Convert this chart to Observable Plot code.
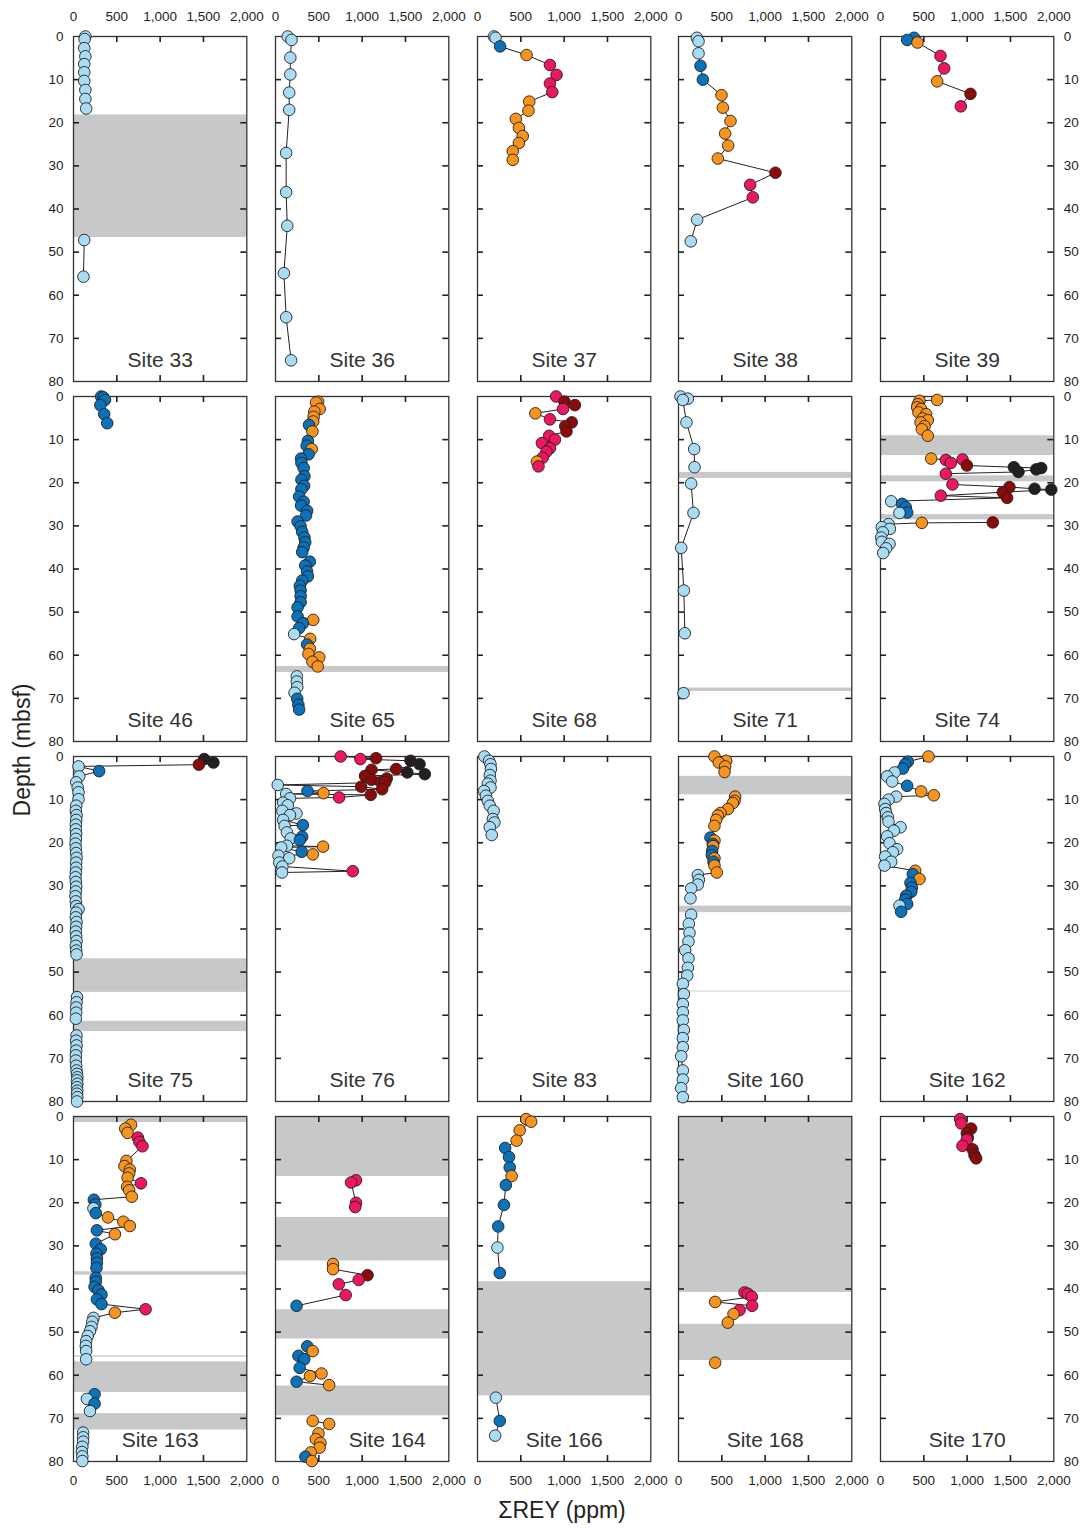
<!DOCTYPE html>
<html>
<head>
<meta charset="utf-8">
<script src="https://cdn.jsdelivr.net/npm/d3@7"></script>
<script src="https://cdn.jsdelivr.net/npm/@observablehq/plot@0.6"></script>
<style>
  body { margin: 0; background: #fff; }
  #chart { position: relative; width: 1084px; height: 1528px; font-family: "Liberation Sans", Arial, sans-serif; color: #231f20; }
  #chart svg { position: absolute; }
  .axis-title { position: absolute; font-size: 23px; white-space: nowrap; transform: translate(-50%, -50%); }
</style>
</head>
<body>
<div id="chart"></div>
<script>
// ---- categories and tick labels ----
const classes = ["lb", "db", "or", "pk", "dr", "bk"];
const classColors = ["#a8dcf4", "#0b72b9", "#f7941d", "#ec1760", "#8b0a0a", "#231f20"];
const xTicks = [0, 500, 1000, 1500, 2000];
const yTicks = [0, 10, 20, 30, 40, 50, 60, 70, 80];
const siteNames = ["33","36","37","38","39","46","65","68","71","74","75","76","83","160","162","163","164","166","168","170"];

// ---- data: [depth (mbsf), ΣREY (ppm), class] and gap intervals [top, bottom] ----
const s33 = [[0,137,"lb"],[0.6,128,"lb"],[2.7,124,"lb"],[4.6,137,"lb"],[6.4,124,"lb"],[8.3,124,"lb"],[10.3,124,"lb"],[12.4,137,"lb"],[14.5,137,"lb"],[16.7,146,"lb"],[47.2,124,"lb"],[55.7,115,"lb"]];
const g33 = [[18.2,46.6]];
const s36 = [[0,141,"lb"],[0.8,185,"lb"],[4.9,171,"lb"],[8.8,171,"lb"],[13.0,158,"lb"],[17.0,158,"lb"],[27.0,123,"lb"],[36.1,123,"lb"],[43.9,136,"lb"],[54.9,97,"lb"],[65.1,123,"lb"],[75.1,180,"lb"]];
const g36 = [];
const s37 = [[0,190,"lb"],[0.3,208,"lb"],[2.3,261,"db"],[4.3,566,"or"],[6.6,836,"pk"],[8.9,912,"pk"],[10.9,836,"pk"],[12.9,863,"pk"],[15.1,597,"or"],[17.2,588,"or"],[19.1,442,"or"],[21.2,478,"or"],[23.1,522,"or"],[24.7,478,"or"],[26.6,407,"or"],[28.6,407,"or"]];
const g37 = [];
const s38 = [[0.3,212,"lb"],[1.1,231,"lb"],[3.9,231,"lb"],[6.8,254,"db"],[10.0,281,"db"],[13.6,496,"or"],[16.5,512,"or"],[19.6,600,"or"],[22.5,538,"or"],[25.3,573,"or"],[28.3,454,"or"],[31.6,1119,"dr"],[34.4,827,"pk"],[37.3,858,"pk"],[42.5,215,"lb"],[47.5,142,"lb"]];
const g38 = [];
const s39 = [[0.3,388,"db"],[0.8,308,"db"],[1.4,427,"or"],[4.5,692,"pk"],[7.4,735,"pk"],[10.4,654,"or"],[13.3,1038,"dr"],[16.2,927,"pk"]];
const g39 = [];
const s46 = [[0,319,"db"],[0.2,345,"db"],[0.8,363,"db"],[2.0,310,"db"],[4.1,354,"db"],[6.2,389,"db"]];
const g46 = [];
const s65 = [[1.2,492,"or"],[1.4,468,"or"],[2.9,510,"or"],[3.5,448,"or"],[4.7,440,"or"],[5.8,435,"or"],[6.6,387,"db"],[8.1,426,"or"],[10.3,374,"db"],[11.4,360,"db"],[12.2,418,"or"],[13.4,382,"db"],[14.4,295,"db"],[15.4,299,"db"],[16.6,325,"db"],[18.5,334,"db"],[19.3,299,"db"],[20.7,330,"db"],[21.5,299,"db"],[23.2,273,"db"],[24.4,325,"db"],[25.3,295,"db"],[26.5,365,"db"],[27.6,352,"db"],[29.0,255,"db"],[30.1,290,"db"],[31.4,308,"db"],[32.7,334,"db"],[33.8,343,"db"],[35.0,325,"db"],[36.1,308,"db"],[38.3,396,"db"],[39.2,343,"db"],[40.6,365,"db"],[41.7,374,"db"],[42.7,308,"db"],[43.9,281,"db"],[45.0,290,"db"],[46.3,290,"db"],[47.7,290,"db"],[48.9,255,"db"],[51.0,255,"db"],[51.8,435,"or"],[52.6,316,"db"],[53.7,273,"db"],[55.1,215,"lb"],[56.2,400,"or"],[57.5,365,"db"],[58.5,396,"or"],[59.7,380,"or"],[60.5,505,"or"],[61.5,426,"or"],[62.6,488,"or"],[64.9,246,"lb"],[66.1,246,"lb"],[67.4,251,"lb"],[68.7,220,"lb"],[70.1,251,"db"],[71.5,264,"db"],[72.6,273,"db"]];
const g65 = [[62.6,64.0]];
const s68 = [[0,907,"pk"],[1.2,1004,"dr"],[2.0,1124,"dr"],[2.9,987,"pk"],[3.9,668,"or"],[5.3,836,"pk"],[6.0,1088,"dr"],[6.9,1013,"dr"],[8.1,1027,"dr"],[9.1,827,"pk"],[10.0,894,"pk"],[10.8,743,"pk"],[12.0,836,"pk"],[12.8,796,"pk"],[14.2,752,"pk"],[15.1,686,"or"],[16.2,704,"pk"]];
const g68 = [];
const s71 = [[0,23,"lb"],[0.5,108,"lb"],[0.8,50,"lb"],[6.0,92,"lb"],[12.2,181,"lb"],[16.4,185,"lb"],[20.2,146,"lb"],[27.0,173,"lb"],[35.1,31,"lb"],[45.0,62,"lb"],[54.9,73,"lb"],[68.8,58,"lb"]];
const g71 = [[17.6,19.0],[67.6,68.4]];
const s74 = [[0.8,654,"or"],[1.0,450,"or"],[1.8,431,"or"],[2.5,423,"or"],[2.9,469,"or"],[3.7,438,"or"],[4.1,527,"or"],[5.1,488,"or"],[5.5,546,"or"],[6.0,462,"or"],[6.9,508,"or"],[7.6,477,"or"],[9.1,546,"or"],
  [14.4,585,"or"],[14.7,754,"pk"],[15.4,812,"pk"],[14.6,947,"pk"],[16.0,997,"dr"],[16.4,1539,"bk"],[16.6,1855,"bk"],[16.9,1797,"bk"],[17.5,1592,"bk"],[17.9,754,"pk"],
  [20.4,831,"pk"],[21.0,1488,"dr"],[21.4,1778,"bk"],[21.6,1971,"bk"],[22.2,1411,"dr"],[23.0,696,"pk"],[23.5,1461,"dr"],[24.3,123,"lb"],[24.9,250,"db"],[25.7,292,"db"],[26.9,308,"db"],[27.0,219,"lb"],
  [29.2,1296,"dr"],[29.3,477,"or"],[29.6,92,"lb"],[30.3,15,"lb"],[30.7,108,"lb"],[31.5,27,"lb"],[32.7,8,"lb"],[33.7,15,"lb"],[34.2,104,"lb"],[35.2,65,"lb"],[36.3,31,"lb"]];
const g74 = [[9.1,13.7],[18.4,19.8],[27.4,28.6]];
const s75 = [[0.6,1509,"bk"],[1.4,1615,"bk"],[1.9,1447,"dr"],[2.3,58,"lb"],[3.4,296,"db"],[4.6,66,"lb"],[6.0,31,"lb"],[7.2,49,"lb"],[8.3,58,"lb"],[9.9,58,"lb"],[11.4,31,"lb"],
  [12.6,27,"lb"],[13.6,35,"lb"],[14.7,31,"lb"],[15.8,27,"lb"],[16.9,27,"lb"],[18.0,31,"lb"],[19.1,27,"lb"],[20.2,23,"lb"],[21.3,27,"lb"],[22.4,31,"lb"],[23.5,35,"lb"],[24.6,31,"lb"],[25.8,31,"lb"],[26.9,27,"lb"],[28.0,23,"lb"],[29.1,27,"lb"],[30.2,31,"lb"],[31.3,27,"lb"],[32.4,23,"lb"],[33.6,27,"lb"],[34.7,31,"lb"],[35.4,58,"lb"],[36.2,31,"lb"],[37.3,27,"lb"],[38.4,35,"lb"],[39.5,31,"lb"],[40.6,27,"lb"],[41.7,31,"lb"],[42.8,35,"lb"],[43.9,27,"lb"],[45.0,31,"lb"],[45.9,35,"lb"],
  [55.8,40,"lb"],[57.0,35,"lb"],[58.2,31,"lb"],[59.4,31,"lb"],[60.8,27,"lb"],
  [64.7,35,"lb"],[65.9,31,"lb"],[67.0,35,"lb"],[68.2,31,"lb"],[69.3,27,"lb"],[70.5,27,"lb"],[71.7,31,"lb"],[72.8,35,"lb"],[73.6,40,"lb"],[74.4,44,"lb"],[75.1,40,"lb"],[75.9,44,"lb"],[76.7,40,"lb"],[77.5,44,"lb"],[78.2,40,"lb"],[79.0,44,"lb"],[80.0,40,"lb"]];
const g75 = [[46.9,54.7],[61.4,63.8]];
const s76 = [[0.0,752,"pk"],[0.4,1160,"dr"],[0.6,980,"pk"],[1.0,1560,"bk"],[1.8,1662,"bk"],[2.9,1393,"dr"],[3.1,1108,"dr"],[3.7,1521,"bk"],[4.1,1723,"bk"],[4.5,1033,"dr"],[5.1,1284,"dr"],[5.4,1108,"dr"],[5.9,1213,"dr"],[6.0,1266,"dr"],[6.6,26,"lb"],[7.0,989,"dr"],[7.6,1231,"dr"],[8.0,369,"db"],[8.5,554,"or"],[8.7,123,"lb"],[8.9,1099,"dr"],[9.5,734,"pk"],[9.7,167,"lb"],[10.7,88,"lb"],[11.3,141,"lb"],[12.6,79,"lb"],[13.2,242,"lb"],[13.6,167,"lb"],[14.7,88,"lb"],[15.9,316,"db"],[16.1,105,"lb"],[17.6,132,"lb"],[18.6,308,"db"],[19.0,176,"lb"],[19.4,281,"db"],[20.7,132,"lb"],[20.9,549,"or"],[21.1,66,"lb"],[22.1,303,"db"],[22.7,431,"or"],[23.0,35,"lb"],[23.6,158,"lb"],[24.6,44,"lb"],[25.5,79,"lb"],[26.6,892,"pk"],[26.9,75,"lb"]];
const g76 = [];
const s83 = [[0,80,"lb"],[1.0,133,"lb"],[1.8,150,"lb"],[2.9,155,"lb"],[4.3,142,"lb"],[5.6,150,"lb"],[6.3,119,"lb"],[7.2,150,"lb"],[8.0,75,"lb"],[9.1,97,"lb"],[10.3,119,"lb"],[11.4,142,"lb"],[12.6,186,"lb"],[14.5,177,"lb"],[15.3,195,"lb"],[16.4,142,"lb"],[18.2,164,"lb"]];
const g83 = [];
const s160 = [[0,415,"or"],[1.0,550,"or"],[1.4,465,"or"],[2.3,538,"or"],[3.6,531,"or"],[9.3,654,"or"],[10.3,646,"or"],[10.8,627,"or"],[12.2,569,"or"],[13.1,485,"or"],[13.7,454,"or"],[14.7,435,"or"],[16.1,415,"or"],[18.8,369,"db"],[19.5,415,"or"],[20.3,396,"db"],[20.8,400,"or"],[21.9,388,"db"],[22.9,385,"db"],[23.6,415,"or"],[24.4,404,"db"],[25.3,415,"or"],[26.9,442,"or"],[27.5,223,"lb"],[28.6,235,"lb"],[29.7,223,"lb"],[30.6,146,"lb"],[32.9,138,"lb"],[36.7,146,"lb"],[38.8,119,"lb"],[40.9,127,"lb"],[42.9,115,"lb"],[44.9,77,"lb"],[46.8,115,"lb"],[49.0,108,"lb"],[50.8,100,"lb"],[52.7,50,"lb"],[55.1,62,"lb"],[57.4,50,"lb"],[59.3,50,"lb"],[61.2,50,"lb"],[63.4,62,"lb"],[65.3,50,"lb"],[67.4,50,"lb"],[69.5,31,"lb"],[72.8,50,"lb"],[74.9,50,"lb"],[76.9,31,"lb"],[79.0,50,"lb"]];
const g160 = [[4.6,8.9],[34.7,36.2],[54.4,54.6]];
const s162 = [[0,554,"or"],[1.2,315,"db"],[1.8,285,"db"],[2.8,258,"db"],[3.7,162,"lb"],[4.6,77,"lb"],[5.8,135,"lb"],[6.8,308,"db"],[8.1,469,"or"],[9.0,615,"or"],[9.3,181,"lb"],[10.0,92,"lb"],[11.0,46,"lb"],[12.2,54,"lb"],[13.1,65,"lb"],[14.1,85,"lb"],[15.1,92,"lb"],[16.4,231,"lb"],[17.2,154,"lb"],[18.5,77,"lb"],[20.1,104,"lb"],[21.5,192,"lb"],[22.2,142,"lb"],[23.2,54,"lb"],[24.4,123,"lb"],[25.3,46,"lb"],[26.5,400,"or"],[27.3,373,"db"],[28.4,450,"or"],[29.3,346,"db"],[30.4,362,"db"],[31.4,354,"db"],[32.3,296,"db"],[33.2,285,"db"],[34.2,308,"db"],[34.6,219,"lb"],[36.0,238,"db"]];
const g162 = [];
const s163 = [[1.9,664,"or"],[2.8,597,"or"],[3.8,624,"or"],[4.9,743,"pk"],[5.9,761,"pk"],[6.9,796,"pk"],[10.3,611,"or"],[11.5,588,"or"],[12.3,650,"or"],[13.2,642,"or"],[14.2,624,"or"],[15.5,779,"pk"],[16.3,619,"or"],[17.1,642,"or"],[18.6,673,"or"],[19.3,235,"db"],[20.4,252,"db"],[21.3,230,"lb"],[22.4,257,"db"],[23.4,398,"or"],[24.4,575,"or"],[25.4,650,"or"],[26.4,270,"db"],[27.3,478,"or"],[29.5,257,"db"],[30.8,314,"db"],[31.8,265,"db"],[32.9,270,"db"],[33.9,270,"db"],[35.1,265,"db"],
  [37.4,257,"db"],[38.3,257,"db"],[39.5,243,"db"],[40.3,288,"db"],[41.3,323,"db"],[42.4,270,"db"],[43.5,323,"db"],[44.7,832,"pk"],[45.5,478,"or"],[46.7,230,"lb"],[47.6,217,"lb"],[48.8,208,"lb"],[49.8,190,"lb"],[50.9,164,"lb"],[52.1,146,"lb"],[53.2,142,"lb"],[54.4,146,"lb"],[56.3,146,"lb"],
  [64.4,243,"db"],[65.5,155,"lb"],[66.6,243,"db"],[68.3,190,"lb"],[73.3,111,"lb"],[74.4,111,"lb"],[75.4,111,"lb"],[76.6,102,"lb"],[77.8,97,"lb"],[78.8,102,"lb"],[79.9,102,"lb"]];
const g163 = [[0,1.4],[36.0,36.8],[55.5,55.8],[56.9,64.0],[68.9,72.7]];
const s164 = [[14.8,929,"pk"],[15.3,872,"pk"],[20.0,929,"pk"],[21.0,920,"pk"],
  [34.2,664,"or"],[35.4,664,"or"],[36.8,1062,"dr"],[37.9,960,"pk"],[38.9,730,"pk"],[41.4,810,"pk"],[43.9,243,"db"],
  [53.3,367,"db"],[54.4,429,"or"],[55.5,265,"db"],[56.3,332,"db"],[58.3,279,"db"],[59.6,531,"or"],[60.2,398,"or"],[61.5,243,"db"],[62.3,619,"or"],
  [70.6,429,"or"],[71.3,619,"or"],[73.5,496,"or"],[74.8,465,"or"],[75.7,518,"or"],[76.8,509,"or"],[77.9,407,"or"],[78.9,345,"db"],[79.9,420,"or"]];
const g164 = [[0,13.9],[23.4,33.5],[44.8,51.6],[62.5,69.4]];
const s166 = [[0.6,562,"or"],[1.2,619,"or"],[3.2,487,"or"],[5.6,451,"or"],[7.3,319,"db"],[9.4,363,"db"],[11.8,372,"db"],[13.8,394,"or"],[15.9,327,"db"],[20.5,305,"db"],[25.5,239,"db"],[30.4,230,"lb"],[36.3,257,"db"],[65.2,212,"lb"],[70.6,257,"db"],[74.0,204,"lb"]];
const g166 = [[38.3,64.8]];
const s168 = [[40.8,762,"pk"],[41.1,800,"pk"],[41.8,846,"pk"],[43.0,423,"or"],[43.9,850,"pk"],[44.9,704,"pk"],[45.8,635,"or"],[47.8,569,"or"],[57.1,423,"or"]];
const g168 = [[0,40.8],[48.2,56.6]];
const s170 = [[0.6,919,"pk"],[1.6,931,"pk"],[2.8,1046,"dr"],[3.9,996,"dr"],[4.9,1008,"dr"],[5.4,996,"pk"],[6.8,946,"pk"],[7.6,1062,"dr"],[9.0,1085,"dr"],[9.7,1104,"dr"]];
const g170 = [];

const sitePoints = [s33,s36,s37,s38,s39,s46,s65,s68,s71,s74,s75,s76,s83,s160,s162,s163,s164,s166,s168,s170];
const siteGaps = [g33,g36,g37,g38,g39,g46,g65,g68,g71,g74,g75,g76,g83,g160,g162,g163,g164,g166,g168,g170];

// ---- layout ----
const W = 173.3, H = 345;
const colLeft = [73.3, 275, 476.8, 678, 880];
const rowTop = [35.7, 395.5, 755.5, 1116];
const M = {l: 45, r: 45, t: 34, b: 34};
const labelShift = {"164": 25};
const ink = "#231f20";
const fmt = d3.format(",");
const xInner = xTicks.slice(1, -1);
const yInner = yTicks.slice(1, -1);

const chart = document.getElementById("chart");

siteNames.forEach((name, i) => {
  const row = Math.floor(i / 5), col = i % 5;
  const gaps = siteGaps[i];
  const data = sitePoints[i].map(([depth, rey, cls]) => ({
    depth, rey, cls, seg: gaps.filter(g => g[1] <= depth).length
  }));
  const tickStyle = {stroke: ink, strokeWidth: 1.6};
  const marks = [
    Plot.rect(gaps, {y1: d => d[0], y2: d => d[1], fill: "#c7c8ca"}),
    Plot.frame({stroke: "#333", strokeWidth: 1.3}),
    Plot.tickX(xInner, {x: d => d, insetBottom: H - 6, ...tickStyle}),
    Plot.tickX(xInner, {x: d => d, insetTop: H - 6, ...tickStyle}),
    Plot.tickY(yInner, {y: d => d, insetRight: W - 6, ...tickStyle}),
    Plot.tickY(yInner, {y: d => d, insetLeft: W - 6, ...tickStyle}),
    Plot.line(data, {x: "rey", y: "depth", z: "seg", stroke: ink, strokeWidth: 1}),
    Plot.dot(data, {x: "rey", y: "depth", r: 5.8, fill: "cls", stroke: ink, strokeWidth: 0.9}),
    Plot.text([name], {frameAnchor: "bottom", lineAnchor: "middle", dy: -21, dx: labelShift[name] || 0, text: d => "Site " + d, fontSize: 21, fill: "#333"})
  ];
  const tickText = {fontSize: 13.5, fill: ink, lineAnchor: "middle"};
  if (row === 0) marks.push(Plot.text(xTicks, {x: d => d, frameAnchor: "top", dy: -20, text: d => fmt(d), ...tickText}));
  if (row === 3) marks.push(Plot.text(xTicks, {x: d => d, frameAnchor: "bottom", dy: 19, text: d => fmt(d), ...tickText}));
  if (col === 0) marks.push(Plot.text(yTicks, {y: d => d, frameAnchor: "left", dx: -10, textAnchor: "end", text: d => String(d), ...tickText}));
  if (col === 4) marks.push(Plot.text(yTicks, {y: d => d, frameAnchor: "right", dx: 10, textAnchor: "start", text: d => String(d), ...tickText}));

  const svg = Plot.plot({
    width: W + M.l + M.r,
    height: H + M.t + M.b,
    marginLeft: M.l, marginRight: M.r, marginTop: M.t, marginBottom: M.b,
    x: {domain: [0, 2000], axis: null},
    y: {domain: [0, 80], reverse: true, axis: null},
    color: {domain: classes, range: classColors},
    style: {background: "none", overflow: "visible", fontFamily: "'Liberation Sans', Arial, sans-serif"},
    marks
  });
  svg.style.left = (colLeft[col] - M.l) + "px";
  svg.style.top = (rowTop[row] - M.t) + "px";
  chart.appendChild(svg);
});

// axis titles
const yTitle = document.createElement("div");
yTitle.className = "axis-title";
yTitle.textContent = "Depth (mbsf)";
yTitle.style.left = "22px";
yTitle.style.top = "750px";
yTitle.style.transform = "translate(-50%, -50%) rotate(-90deg)";
chart.appendChild(yTitle);

const xTitle = document.createElement("div");
xTitle.className = "axis-title";
xTitle.textContent = "ΣREY (ppm)";
xTitle.style.left = "562px";
xTitle.style.top = "1510px";
chart.appendChild(xTitle);
</script>
</body>
</html>
